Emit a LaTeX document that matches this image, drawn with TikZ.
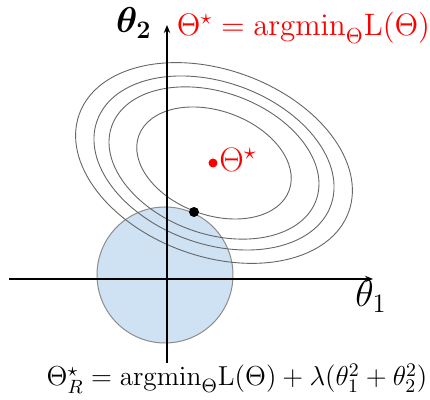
\RequirePackage{fix-cm}
\documentclass[tikz,border=0pt]{standalone}
\usepackage{amsmath,amssymb}
\usetikzlibrary{arrows.meta}
\definecolor{ballblue}{RGB}{207,226,243}

\begin{document}
\begin{tikzpicture}[x=0.5pt, y=0.5pt, >={Stealth[length=4pt,width=3.2pt]},
    level/.style={draw=black!60, line width=0.45pt},
    axis/.style={->, line width=0.75pt}]
  \useasboundingbox (-167,-121) rectangle (263,279);
  % ridge ball and loss contours
  \filldraw[fill=ballblue, draw=black!45, line width=0.5pt] (-2,4) circle (68);
  \foreach \ra/\rb in {80/52,108.7/70.7,124.3/80.8,143.3/93.2}
    \draw[level, shift={(47,116)}, rotate=-20] (0,0) ellipse [x radius=\ra, y radius=\rb];
  % axes
  \coordinate (xmin) at (-158,0);
  \coordinate (xmax) at (206,0);
  \coordinate (ymin) at (0,-84);
  \coordinate (ymax) at (0,254);
  \draw[axis] (xmin) -- (xmax);
  \draw[axis] (ymin) -- (ymax);
  \node[anchor=base west, inner sep=0pt, font=\fontsize{19}{22}\selectfont] (thone) at (188,-28) {$\theta_1$};
  \node[anchor=base east, inner sep=0pt, font=\fontsize{18}{21}\selectfont] (thtwo) at (-15,246) {$\boldsymbol{\theta_2}$};
  % minimisers
  \fill[red] (46,116) circle (4.5);
  \node[anchor=base west, inner sep=0pt, red, font=\fontsize{17}{20}\selectfont] (opt) at (52,107) {$\Theta^\star$};
  \fill[black] (27,67) circle (5);
  \node[anchor=base, inner sep=0pt, red, font=\fontsize{15.5}{18}\selectfont] (optdef) at (136.5,243)
    {$\Theta^\star = \mathrm{argmin}_\Theta \mathrm{L}(\Theta)$};
  \node[anchor=base, inner sep=0pt, font=\fontsize{13.7}{16}\selectfont] (ridgedef) at (70,-107)
    {$\Theta^\star_R = \mathrm{argmin}_\Theta \mathrm{L}(\Theta) + \lambda(\theta_1^2 + \theta_2^2)$};
\end{tikzpicture}
\end{document}
